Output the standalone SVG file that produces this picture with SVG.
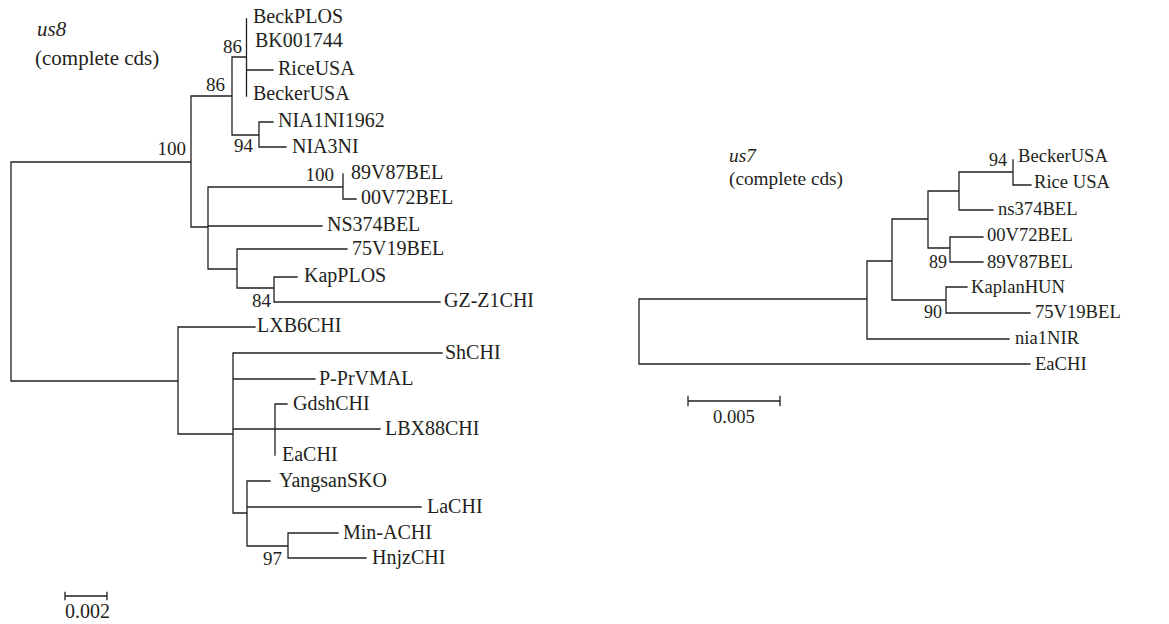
<svg xmlns="http://www.w3.org/2000/svg" width="1169" height="624" viewBox="0 0 1169 624">
<style>
.c{fill:none;stroke:#231f20;stroke-width:1.3;stroke-linecap:square}
text{font-family:"Liberation Serif","Times New Roman",serif;fill:#231f20}
.l{font-size:20px}
.r{font-size:18.6px}
.tl{font-size:21px}
.tr{font-size:19.3px}
.b{font-size:19px;text-anchor:end}
.br{font-size:18px;text-anchor:end}
.t{font-style:italic}
</style>
<rect width="1169" height="624" fill="#fff"/>
<g id="connectors">
<path class="c" d="M11,162V381M11,162H191M11,381H178
M191,96V227M191,96H232M191,227H208
M232,57V135M232,57H246.5M232,135H259
M246.5,19V96M246.5,70H273
M259,122V147M259,122H273M259,147H286
M208,187V269M208,187H343M208,226H322M208,269H237
M343,174V199M343,199H356
M237,249V288M237,249H347M237,288H274
M274,277V302M274,277H297M274,302H440
M178,327V434M178,327H255M178,434H233
M233,353V513M233,353H442M233,379H315M233,429H380M233,513H247
M275,404V455M275,404H287
M247,481V546M247,481H270M247,507H421M247,546H288
M288,533V558M288,533H338M288,558H366"/>
<path class="c" d="M639,299V364M639,299H867M639,364H1030
M867,261V339M867,261H892M867,339H1009
M892,219V300M892,219H928M892,300H946
M946,287V313M946,287H967M946,313H1030
M928,191V248M928,191H959M928,248H950
M959,172V210M959,172H1013M959,210H993
M1013,160V185M1013,185H1031
M950,237V262M950,237H983M950,262H983"/>
<path class="c" d="M65,596H107M65,592.5V599.5M107,592.5V599.5"/>
<path class="c" d="M688,401H780M688,396.5V405.5M780,396.5V405.5"/>
</g>
<g id="title-us8"><text class="tl t" x="37" y="36">us8</text><text class="tl" x="35" y="65">(complete cds)</text></g>
<g id="title-us7"><text class="tr t" x="729" y="162">us7</text><text class="tr" x="729" y="185">(complete cds)</text></g>
<g id="bootstrap-us8">
<text class="b" x="186" y="155">100</text>
<text class="b" x="225" y="91">86</text>
<text class="b" x="242" y="53">86</text>
<text class="b" x="253" y="152">94</text>
<text class="b" x="334" y="181">100</text>
<text class="b" x="271" y="307">84</text>
<text class="b" x="282" y="565">97</text>
</g>
<g id="bootstrap-us7">
<text class="br" x="1007" y="166">94</text>
<text class="br" x="947" y="268">89</text>
<text class="br" x="942" y="318">90</text>
</g>
<g id="leaves-us8">
<g id="n-BeckPLOS"><text class="l" x="253" y="23">BeckPLOS</text></g>
<g id="n-BK001744"><text class="l" x="255" y="47">BK001744</text></g>
<g id="n-RiceUSA"><text class="l" x="278" y="75">RiceUSA</text></g>
<g id="n-BeckerUSA"><text class="l" x="253" y="100">BeckerUSA</text></g>
<g id="n-NIA1NI1962"><text class="l" x="278" y="127">NIA1NI1962</text></g>
<g id="n-NIA3NI"><text class="l" x="292" y="153">NIA3NI</text></g>
<g id="n-89V87BEL"><text class="l" x="351" y="179">89V87BEL</text></g>
<g id="n-00V72BEL"><text class="l" x="361" y="204">00V72BEL</text></g>
<g id="n-NS374BEL"><text class="l" x="327" y="231">NS374BEL</text></g>
<g id="n-75V19BEL"><text class="l" x="352" y="255">75V19BEL</text></g>
<g id="n-KapPLOS"><text class="l" x="304" y="282">KapPLOS</text></g>
<g id="n-GZ-Z1CHI"><text class="l" x="444" y="307">GZ-Z1CHI</text></g>
<g id="n-LXB6CHI"><text class="l" x="257" y="332">LXB6CHI</text></g>
<g id="n-ShCHI"><text class="l" x="445" y="359">ShCHI</text></g>
<g id="n-P-PrVMAL"><text class="l" x="319" y="385">P-PrVMAL</text></g>
<g id="n-GdshCHI"><text class="l" x="293" y="410">GdshCHI</text></g>
<g id="n-LBX88CHI"><text class="l" x="385" y="435">LBX88CHI</text></g>
<g id="n-EaCHI-us8"><text class="l" x="282" y="461">EaCHI</text></g>
<g id="n-YangsanSKO"><text class="l" x="279" y="487">YangsanSKO</text></g>
<g id="n-LaCHI"><text class="l" x="427" y="513">LaCHI</text></g>
<g id="n-Min-ACHI"><text class="l" x="343" y="539">Min-ACHI</text></g>
<g id="n-HnjzCHI"><text class="l" x="372" y="564">HnjzCHI</text></g>
</g>
<g id="leaves-us7">
<g id="m-BeckerUSA"><text class="r" x="1018" y="162">BeckerUSA</text></g>
<g id="m-RiceUSA"><text class="r" x="1034" y="188">Rice USA</text></g>
<g id="m-ns374BEL"><text class="r" x="998" y="215">ns374BEL</text></g>
<g id="m-00V72BEL"><text class="r" x="987" y="241">00V72BEL</text></g>
<g id="m-89V87BEL"><text class="r" x="987" y="268">89V87BEL</text></g>
<g id="m-KaplanHUN"><text class="r" x="971" y="293">KaplanHUN</text></g>
<g id="m-75V19BEL"><text class="r" x="1035" y="318">75V19BEL</text></g>
<g id="m-nia1NIR"><text class="r" x="1015" y="344">nia1NIR</text></g>
<g id="m-EaCHI"><text class="r" x="1035" y="370">EaCHI</text></g>
</g>
<g id="scale-us8"><text class="l" x="65" y="618">0.002</text></g>
<g id="scale-us7"><text class="r" x="713" y="423">0.005</text></g>
</svg>
